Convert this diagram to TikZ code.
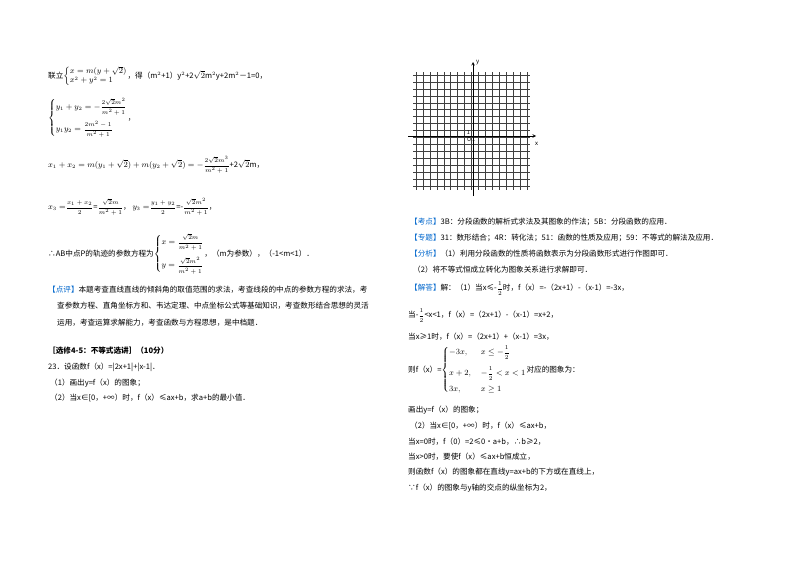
\documentclass[tikz,border=0pt]{standalone}
\usepackage{fontspec}
\usepackage{amsmath}
\setmainfont{Noto Sans CJK SC}
\begin{document}
\begin{tikzpicture}[x=1pt,y=-1pt,
  t/.style={anchor=west,inner sep=0pt,font=\fontsize{7.6}{9}\selectfont},
  tb/.style={t,font=\fontsize{7.6}{9}\selectfont\bfseries},
  gl/.style={draw=black!75,line width=0.5pt}]
\useasboundingbox (0,0) rectangle (800,565);
\definecolor{kb}{RGB}{0,102,204}
\newcommand{\kh}[1]{\textcolor{kb}{【#1】}}
\newcommand{\fr}[2]{{\fontsize{6.5}{7}\selectfont$\dfrac{#1}{#2}$}}
% left column
\node[t] (l1) at (48,76) {联立$\left\{\begin{array}{@{}l@{}}x=m(y+\sqrt2)\\ x^2+y^2=1\end{array}\right.$，得（m$^2$+1）y$^2$+2$\sqrt2$m$^2$y+2m$^2$－1=0，};
\node[t] (l2) at (48,118) {$\left\{\begin{array}{@{}l@{}}y_1+y_2=-\text{\fr{2\sqrt2m^2}{m^2+1}}\\[9pt] y_1y_2=\text{\fr{2m^2-1}{m^2+1}}\end{array}\right.$，};
\node[t] (l3) at (48,165) {$x_1+x_2=m(y_1+\sqrt2)+m(y_2+\sqrt2)=-$\fr{2\sqrt2m^3}{m^2+1}+2$\sqrt2$m，};
\node[t] (l4) at (48,207) {$x_3=$\fr{x_1+x_2}{2}=\fr{\sqrt2m}{m^2+1}，\ $y_3=$\fr{y_1+y_2}{2}=-\fr{\sqrt2m^2}{m^2+1}，};
\node[t] (l5) at (48,254) {∴AB中点P的轨迹的参数方程为$\left\{\begin{array}{@{}l@{}}x=\text{\fr{\sqrt2m}{m^2+1}}\\[10pt] y=\text{\fr{\sqrt2m^2}{m^2+1}}\end{array}\right.$，（m为参数），（-1<m<1）．};
\node[t] (l6) at (48,290) {\kh{点评}本题考查直线直线的倾斜角的取值范围的求法，考查线段的中点的参数方程的求法，考};
\node[t] (l7) at (57,306) {查参数方程、直角坐标方和、韦达定理、中点坐标公式等基础知识，考查数形结合思想的灵活};
\node[t] (l8) at (57,323) {运用，考查运算求解能力，考查函数与方程思想，是中档题．};
\node[tb] (l9) at (48,351) {［选修4-5：不等式选讲］（10分）};
\node[t] (l10) at (48,367) {23．设函数f（x）=|2x+1|+|x-1|．};
\node[t] (l11) at (50,383) {（1）画出y=f（x）的图象；};
\node[t] (l12) at (50,398) {（2）当x∈[0，+∞）时，f（x）≤ax+b，求a+b的最小值．};
% grid
\foreach \i in {0,...,16} {
  \draw[gl] (416+6.94*\i,72) -- (416+6.94*\i,190);
  \draw[gl] (413,75+6.94*\i) -- (530,75+6.94*\i);
}
\coordinate (xs) at (408,136); \coordinate (xe) at (536,136);
\coordinate (ys) at (473,196); \coordinate (ye) at (473,62);
\draw[line width=0.6pt,-stealth] (xs) -- (xe);
\draw[line width=0.6pt,-stealth] (ys) -- (ye);
\node[anchor=west,inner sep=0pt,font=\fontsize{6}{6}\selectfont\itshape] (yl) at (476,63) {y};
\node[anchor=west,inner sep=0pt,font=\fontsize{6}{6}\selectfont\itshape] (xl) at (535,144) {x};
\node[anchor=east,inner sep=0pt,font=\fontsize{5.5}{6}\selectfont] (o1) at (470,133) {1};
\node[anchor=north west,inner sep=0pt,font=\fontsize{5.5}{6}\selectfont] (oo) at (467,137) {\textit{O}\,1};
% right column
\node[t] (r1) at (410,222) {\kh{考点}3B：分段函数的解析式求法及其图象的作法；5B：分段函数的应用．};
\node[t] (r2) at (410,238) {\kh{专题}31：数形结合；4R：转化法；51：函数的性质及应用；59：不等式的解法及应用．};
\node[t] (r3) at (410,254) {\kh{分析}（1）利用分段函数的性质将函数表示为分段函数形式进行作图即可．};
\node[t] (r4) at (413,270) {（2）将不等式恒成立转化为图象关系进行求解即可．};
\node[t] (r5) at (410,289) {\kh{解答}解：（1）当x≤-\fr{1}{2}时，f（x）=-（2x+1）-（x-1）=-3x，};
\node[t] (r6) at (408,316) {当-\fr{1}{2}<x<1，f（x）=（2x+1）-（x-1）=x+2，};
\node[t] (r7) at (408,337) {当x≥1时，f（x）=（2x+1）+（x-1）=3x，};
\node[t] (r8) at (408,370) {则f（x）=$\left\{\begin{array}{@{}ll@{}} -3x, & x\le-\text{\fr{1}{2}}\\[9pt] x+2, & -\text{\fr{1}{2}}<x<1\\[7pt] 3x, & x\ge1\end{array}\right.$对应的图象为：};
\node[t] (r9) at (408,410) {画出y=f（x）的图象；};
\node[t] (r10) at (410,426) {（2）当x∈[0，+∞）时，f（x）≤ax+b，};
\node[t] (r11) at (408,442) {当x=0时，f（0）=2≤0•a+b，∴b≥2，};
\node[t] (r12) at (408,457) {当x>0时，要使f（x）≤ax+b恒成立，};
\node[t] (r13) at (408,472) {则函数f（x）的图象都在直线y=ax+b的下方或在直线上，};
\node[t] (r14) at (408,488) {∵f（x）的图象与y轴的交点的纵坐标为2，};
\end{tikzpicture}
\end{document}
